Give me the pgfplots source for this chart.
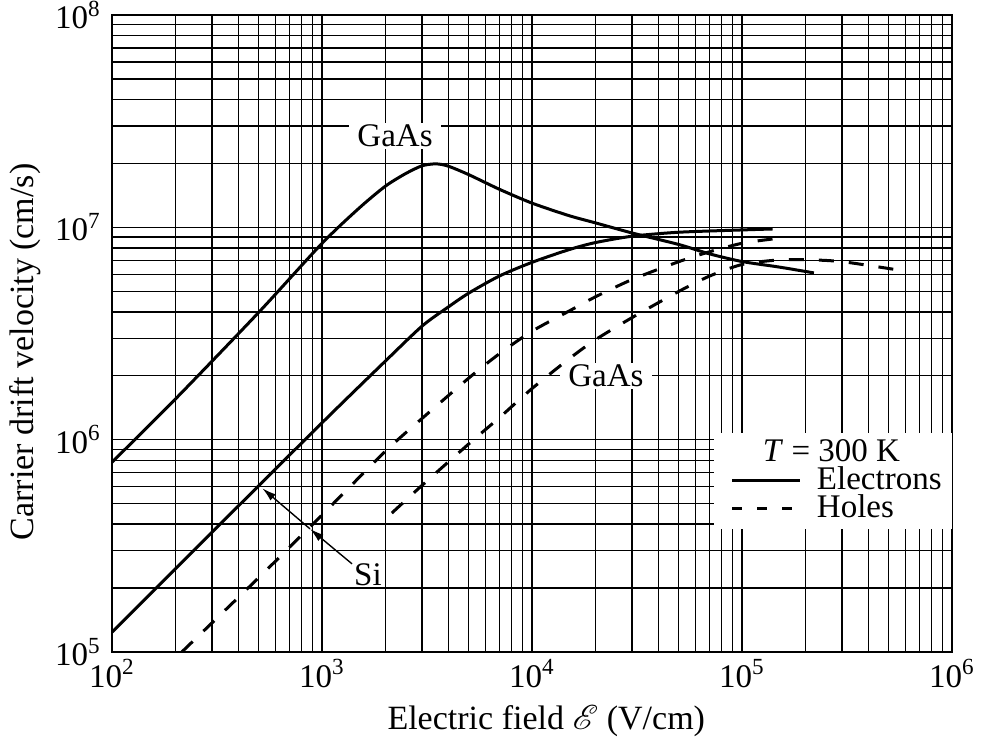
\documentclass[border=0pt]{standalone}
\usepackage{fontspec}
\setmainfont{Liberation Serif}
\usepackage{mathrsfs}
\usepackage{pgfplots}
\pgfplotsset{compat=1.18}
\usetikzlibrary{arrows.meta,calc}

% drift velocity vs. field, T = 300 K
\pgfplotstableread{
E v
100 7.83e5
200 1.55e6
500 3.98e6
1000 8.4e6
1500 1.23e7
2000 1.56e7
2500 1.79e7
3000 1.95e7
3500 1.99e7
4000 1.94e7
5000 1.77e7
7000 1.51e7
10000 1.30e7
15000 1.135e7
20000 1.05e7
30000 9.4e6
50000 8.3e6
70000 7.5e6
100000 6.9e6
150000 6.5e6
220000 6.1e6
}\gaasElec

\pgfplotstableread{
E v
100 1.24e5
300 3.67e5
1000 1.2e6
2000 2.34e6
3000 3.43e6
4000 4.22e6
5000 4.9e6
7000 5.9e6
10000 6.84e6
15000 7.85e6
20000 8.47e6
30000 9.08e6
50000 9.48e6
100000 9.72e6
140000 9.82e6
}\siElec

\pgfplotstableread{
E v
215 1.0e5
500 2.24e5
1000 4.42e5
2000 8.8e5
3000 1.26e6
5000 1.95e6
7000 2.54e6
10000 3.24e6
15000 4.03e6
20000 4.70e6
30000 5.68e6
50000 6.89e6
70000 7.67e6
100000 8.41e6
140000 8.81e6
}\siHole

\pgfplotstableread{
E v
2150 4.51e5
3000 6.1e5
5000 9.55e5
7000 1.27e6
10000 1.74e6
15000 2.40e6
20000 2.95e6
30000 3.76e6
50000 4.99e6
70000 5.89e6
100000 6.68e6
150000 7.02e6
220000 7.02e6
300000 6.89e6
450000 6.5e6
600000 6.22e6
}\gaasHole

\begin{document}
\fontsize{16.5}{18}\selectfont
\begin{tikzpicture}
\begin{axis}[
  name=ax,
  xmode=log, ymode=log,
  scale only axis, width=420pt, height=318.5pt,
  xmin=1e2, xmax=1e6, ymin=1e5, ymax=1e8,
  xtick={1e2,1e3,1e4,1e5,1e6},
  xticklabels={10\textsuperscript{2},10\textsuperscript{3},10\textsuperscript{4},10\textsuperscript{5},10\textsuperscript{6}},
  ytick={1e5,1e6,1e7,1e8},
  yticklabels={10\textsuperscript{5},10\textsuperscript{6},10\textsuperscript{7},10\textsuperscript{8}},
  minor xtick={200,300,400,500,600,700,800,900,
    2000,3000,4000,5000,6000,7000,8000,9000,
    20000,30000,40000,50000,60000,70000,80000,90000,
    200000,300000,400000,500000,600000,700000,800000,900000},
  minor ytick={2e5,3e5,4e5,5e5,6e5,7e5,8e5,9e5,
    2e6,3e6,4e6,5e6,6e6,7e6,8e6,9e6,
    2e7,3e7,4e7,5e7,6e7,7e7,8e7,9e7},
  grid=both,
  major grid style={black, line width=0.7pt},
  minor grid style={black, line width=0.7pt},
  axis line style={black, line width=1pt},
  tick style={black, line width=0.7pt},
  major tick length=4pt, minor tick length=3pt,
  xticklabel style={yshift=2pt},
  xlabel={Electric field $\mathscr{E}$ (V/cm)},
  ylabel={Carrier drift velocity (cm/s)},
  xlabel style={at={(axis description cs:0.517,-0.1224)}, anchor=base,
    font=\fontsize{17}{19}\selectfont},
  ylabel style={at={(axis description cs:-0.094,0.471)}, anchor=base,
    font=\fontsize{17}{19}\selectfont},
  legend style={at={(1,0.345)}, anchor=north east, draw=none, fill=white,
    inner xsep=3pt, inner ysep=3.5pt, row sep=0pt,
    nodes={inner ysep=0pt}},
  legend cell align=left,
  legend image code/.code={\path (-5.5pt,0pt) (39.5pt,0pt);
    \draw[#1] (0pt,0pt) -- (34pt,0pt);},
  every axis plot/.append style={black, line width=1.5pt},
]
\node[fill=white, inner xsep=4pt, inner ysep=1pt] at (axis cs:2228,2.7e7) {GaAs};
\node[fill=white, inner xsep=4pt, inner ysep=1pt] at (axis cs:2.25e4,2.0e6) {GaAs};
\node[inner sep=1pt] at (axis cs:1656,2.3e5) {Si};
\draw[line width=0.7pt, -{Latex[length=7pt,width=4pt]}] (axis cs:1390,2.6e5) -- (axis cs:877,3.8e5);
\draw[line width=0.7pt, -{Latex[length=7pt,width=4pt]}] (axis cs:877,3.8e5) -- (axis cs:520,5.9e5);

\addplot[smooth, tension=0.45, forget plot] table[x=E,y=v] {\gaasElec};
\addplot[smooth, tension=0.45, forget plot] table[x=E,y=v] {\siElec};
\addplot[smooth, tension=0.45, dash pattern=on 7.5pt off 7.5pt, forget plot] table[x=E,y=v] {\siHole};
\addplot[smooth, tension=0.45, dash pattern=on 7.5pt off 7.5pt, forget plot] table[x=E,y=v] {\gaasHole};

\addlegendimage{empty legend}
\addlegendentry{\hspace*{-27pt}\textit{T} = 300 K}
\addlegendimage{black, line width=1.5pt}
\addlegendentry{Electrons}
\addlegendimage{black, line width=1.5pt, dash pattern=on 5pt off 7.5pt}
\addlegendentry{Holes}
\end{axis}
\pgfresetboundingbox
\path[use as bounding box] ($(ax.south west)+(-56pt,-45pt)$) rectangle ($(ax.north east)+(15pt,7.5pt)$);
\end{tikzpicture}
\end{document}
